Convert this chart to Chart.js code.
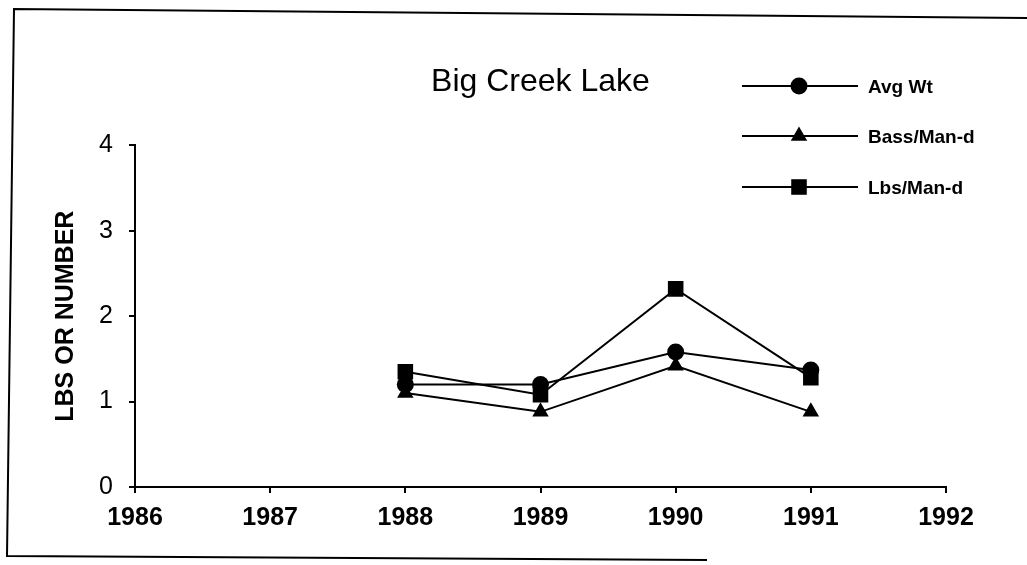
<!DOCTYPE html>
<html>
<head>
<meta charset="utf-8">
<script src="https://cdn.jsdelivr.net/npm/chart.js@4/dist/chart.umd.min.js"></script>
<style>
  html, body { margin: 0; padding: 0; background: #fff; overflow: hidden; }
</style>
</head>
<body>
<canvas id="lakeChart" width="1027" height="565"></canvas>
<script>
// values
const years = [1988, 1989, 1990, 1991]
const avgWt = [1.2, 1.2, 1.58, 1.37]
const bassPerManDay = [1.1, 0.88, 1.42, 0.88]
const lbsPerManDay = [1.35, 1.08, 2.32, 1.28]
const seriesNames = ['Avg Wt', 'Bass/Man-d', 'Lbs/Man-d']
const xTicks = [1986, 1987, 1988, 1989, 1990, 1991, 1992]
const yTicks = [0, 1, 2, 3, 4]

const FONT = '"Liberation Sans", Arial, sans-serif'

const toPoints = (vals) => years.map((yr, i) => ({ x: yr, y: vals[i] }))

const styles = [
  { pointStyle: 'circle', radius: 8.5 },
  { pointStyle: 'triangle', radius: 9.5 },
  { pointStyle: 'rect', radius: 11 }
]

const drawMarker = (ctx, style, x, y, r) => {
  ctx.beginPath()
  if (style === 'circle') {
    ctx.arc(x, y, r, 0, Math.PI * 2)
  } else if (style === 'triangle') {
    ctx.moveTo(x, y - r)
    ctx.lineTo(x + r * 0.866, y + r * 0.5)
    ctx.lineTo(x - r * 0.866, y + r * 0.5)
    ctx.closePath()
  } else {
    const s = r * Math.SQRT1_2
    ctx.rect(x - s, y - s, 2 * s, 2 * s)
  }
  ctx.fill()
}

// page frame from the scan + hand-placed legend
const framePlugin = {
  id: 'frame',
  beforeDraw(chart) {
    const ctx = chart.ctx
    ctx.save()
    ctx.fillStyle = '#fff'
    ctx.fillRect(0, 0, chart.width, chart.height)
    ctx.strokeStyle = '#000'
    ctx.lineWidth = 2
    ctx.beginPath()
    ctx.moveTo(1027, 18)
    ctx.lineTo(14, 9)
    ctx.lineTo(7, 556)
    ctx.lineTo(707, 560)
    ctx.stroke()
    ctx.restore()
  },
  afterDraw(chart) {
    const ctx = chart.ctx
    const rows = [86, 136, 187]
    ctx.save()
    ctx.strokeStyle = '#000'
    ctx.fillStyle = '#000'
    ctx.lineWidth = 2
    ctx.font = 'bold 19px ' + FONT
    ctx.textBaseline = 'middle'
    rows.forEach((y, i) => {
      ctx.beginPath()
      ctx.moveTo(742, y)
      ctx.lineTo(858, y)
      ctx.stroke()
      drawMarker(ctx, styles[i].pointStyle, 799, y, styles[i].radius)
      ctx.fillText(seriesNames[i], 868, y + 2)
    })
    ctx.restore()
  }
}

const makeSet = (label, vals, i) => ({
  label: label,
  data: toPoints(vals),
  borderColor: '#000',
  backgroundColor: '#000',
  borderWidth: 2,
  pointStyle: styles[i].pointStyle,
  pointRadius: styles[i].radius,
  pointHoverRadius: styles[i].radius,
  pointBorderWidth: 0,
  tension: 0
})

const ctx = document.querySelector('#lakeChart')
const lakeChart = new Chart(ctx, {
  type: 'line',
  data: {
    datasets: [
      makeSet(seriesNames[0], avgWt, 0),
      makeSet(seriesNames[1], bassPerManDay, 1),
      makeSet(seriesNames[2], lbsPerManDay, 2)
    ]
  },
  options: {
    responsive: false,
    animation: false,
    devicePixelRatio: 1,
    layout: { padding: { left: 48, right: 81, top: 51, bottom: 0 } },
    plugins: {
      legend: { display: false },
      tooltip: { enabled: false },
      title: {
        display: true,
        text: 'Big Creek Lake',
        color: '#000',
        fullSize: false,
        font: { family: FONT, size: 32, weight: 'normal' },
        padding: { top: 12, bottom: 44 }
      }
    },
    scales: {
      x: {
        type: 'linear',
        min: xTicks[0],
        max: xTicks[xTicks.length - 1],
        afterBuildTicks: (axis) => { axis.ticks = xTicks.map(v => ({ value: v })) },
        afterFit: (axis) => { axis.height = 78 },
        border: { display: true, color: '#000', width: 2 },
        grid: { drawOnChartArea: false, drawTicks: true, tickLength: 6, color: '#000', lineWidth: 2 },
        ticks: {
          color: '#000',
          padding: 10,
          maxRotation: 0,
          font: { family: FONT, size: 25, weight: 'bold' },
          callback: (v) => String(v)
        }
      },
      y: {
        min: yTicks[0],
        max: yTicks[yTicks.length - 1],
        afterBuildTicks: (axis) => { axis.ticks = yTicks.map(v => ({ value: v })) },
        afterFit: (axis) => { axis.width = 87 },
        border: { display: true, color: '#000', width: 2 },
        grid: { drawOnChartArea: false, drawTicks: true, tickLength: 6, color: '#000', lineWidth: 2 },
        ticks: {
          color: '#000',
          padding: 16,
          font: { family: FONT, size: 25, weight: 'normal' }
        },
        title: {
          display: true,
          text: 'LBS OR NUMBER',
          color: '#000',
          padding: { top: 3, bottom: 0 },
          font: { family: FONT, size: 25, weight: 'bold' }
        }
      }
    }
  },
  plugins: [framePlugin]
})
</script>
</body>
</html>
